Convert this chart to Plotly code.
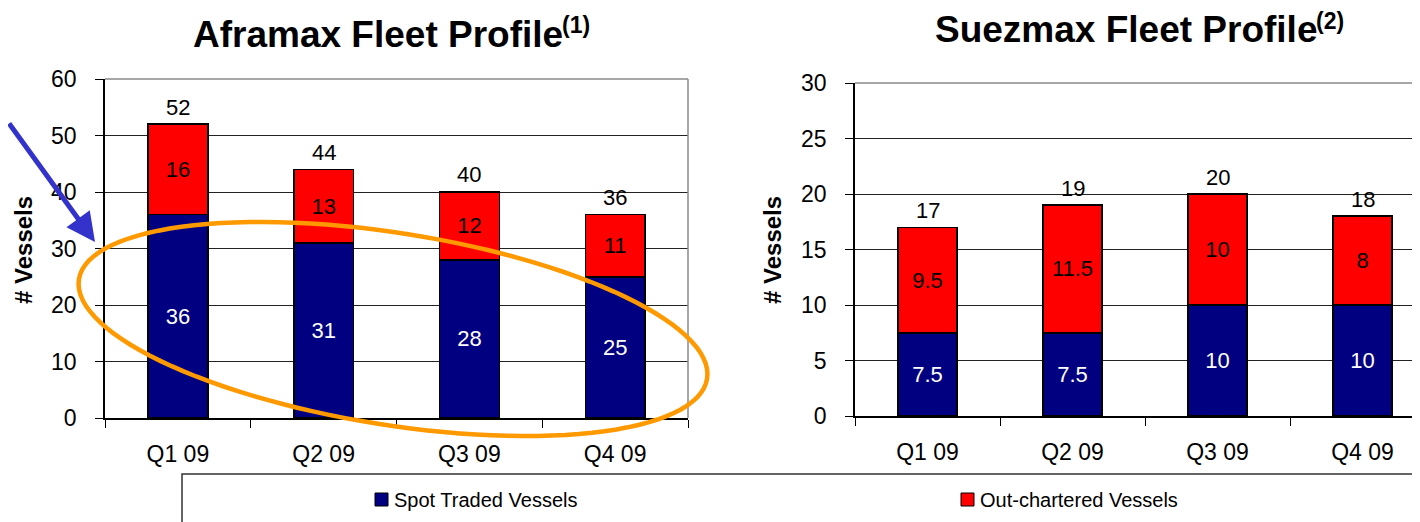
import math
import plotly.graph_objects as go

# ---------------- data ----------------
quarters = ["Q1 09", "Q2 09", "Q3 09", "Q4 09"]
series_names = ["Spot Traded Vessels", "Out-chartered Vessels"]

aframax_spot = [36, 31, 28, 25]
aframax_out = [16, 13, 12, 11]
aframax_total = [52, 44, 40, 36]

suezmax_spot = [7.5, 7.5, 10, 10]
suezmax_out = [9.5, 11.5, 10, 8]
suezmax_total = [17, 19, 20, 18]

titles = ["Aframax Fleet Profile", "Suezmax Fleet Profile"]
title_notes = ["(1)", "(2)"]
y_title = "# Vessels"

# ---------------- style ----------------
OFF = 8                      # page body margin
W, H = 1420 - OFF, 522 - OFF
NAVY = "#000080"
RED = "#FF0000"
FONT = "Liberation Sans, Arial, sans-serif"
TICK_SIZE = 23


def px(x):
    return (x - OFF) / W


def py(y):
    return 1 - (y - OFF) / H


fig = go.Figure()
annotations = []


def add_stack(spot, out, total, xa, ya):
    fig.add_trace(go.Bar(
        x=quarters, y=spot, name=series_names[0], xaxis=xa, yaxis=ya,
        marker=dict(color=NAVY, line=dict(color="black", width=1.5)),
        text=[f"{v:g}" for v in spot], textposition="inside",
        insidetextanchor="middle", textangle=0,
        insidetextfont=dict(color="white", size=TICK_SIZE - 1, family=FONT),
        showlegend=False))
    fig.add_trace(go.Bar(
        x=quarters, y=out, name=series_names[1], xaxis=xa, yaxis=ya,
        marker=dict(color=RED, line=dict(color="black", width=1.5)),
        text=[f"{v:g}" for v in out], textposition="inside",
        insidetextanchor="middle", textangle=0,
        insidetextfont=dict(color="black", size=TICK_SIZE - 1, family=FONT),
        showlegend=False))
    for q, v in zip(quarters, total):
        annotations.append(dict(xref=xa, yref=ya, x=q, y=v, text=f"{v:g}",
                                showarrow=False, xanchor="center", yanchor="middle",
                                yshift=17, font=dict(color="black", size=TICK_SIZE - 1, family=FONT)))


add_stack(aframax_spot, aframax_out, aframax_total, "x", "y")
add_stack(suezmax_spot, suezmax_out, suezmax_total, "x2", "y2")

# plot-area pixel boxes (reference page coordinates)
L = dict(x0=105, x1=688, top=79, bottom=418)
R = dict(x0=855, x1=1420, top=83, bottom=416)
cat_w_right = 145.0

common_x = dict(type="category", tickson="boundaries", ticks="outside", ticklen=8,
                tickcolor="black", tickwidth=1.2, showline=True, linecolor="black",
                linewidth=1.5, showgrid=False, zeroline=False,
                tickfont=dict(size=TICK_SIZE, color="black", family=FONT),
                ticklabelstandoff=15, fixedrange=True)
common_y = dict(ticks="outside", ticklen=8, tickcolor="black", tickwidth=1.2,
                showline=True, linecolor="black", linewidth=1.5,
                showgrid=True, gridcolor="#222222", gridwidth=1, zeroline=False,
                tickfont=dict(size=TICK_SIZE, color="black", family=FONT),
                ticklabelstandoff=14, fixedrange=True)

fig.update_layout(
    width=W, height=H, margin=dict(l=0, r=0, t=0, b=0),
    paper_bgcolor="white", plot_bgcolor="white", template="none",
    barmode="stack", bargap=0.59, showlegend=False,
    font=dict(family=FONT, color="black"),
    xaxis=dict(domain=[px(L["x0"]), px(L["x1"])], range=[-0.5, 3.5], anchor="y", **common_x),
    yaxis=dict(domain=[py(L["bottom"]), py(L["top"])], range=[0, 60], dtick=10, anchor="x", **common_y),
    xaxis2=dict(domain=[px(R["x0"]), 1.0],
                range=[-0.5, -0.5 + (R["x1"] - R["x0"]) / cat_w_right], anchor="y2", **common_x),
    yaxis2=dict(domain=[py(R["bottom"]), py(R["top"])], range=[0, 30], dtick=5, anchor="x2", **common_y),
)

shapes = []
# gray plot-area borders (top and right)
for xr, yr in (("x domain", "y domain"), ("x2 domain", "y2 domain")):
    shapes.append(dict(type="line", xref=xr, yref=yr, x0=0, x1=1, y0=1, y1=1,
                       line=dict(color="#8a8a8a", width=1.5), layer="above"))
shapes.append(dict(type="line", xref="x domain", yref="y domain", x0=1, x1=1, y0=0, y1=1,
                   line=dict(color="#8a8a8a", width=1.5), layer="above"))

# legend box
shapes.append(dict(type="rect", xref="paper", yref="paper", x0=px(182), x1=px(1413),
                   y0=py(540), y1=py(474), line=dict(color="#333333", width=1.5)))

# legend entries
legend_items = [(375, NAVY, series_names[0]), (961, RED, series_names[1])]
for x0, col, name in legend_items:
    shapes.append(dict(type="rect", xref="paper", yref="paper", x0=px(x0), x1=px(x0 + 13),
                       y0=py(506), y1=py(493), fillcolor=col, line=dict(color="black", width=1)))
    annotations.append(dict(xref="paper", yref="paper", x=px(x0 + 17), y=py(500),
                            xanchor="left", yanchor="middle", showarrow=False, text=name,
                            font=dict(size=20, color="black", family=FONT)))

# orange ellipse (highlight)
cx, cy, a, b, th = 393, 329, 318, 96, math.radians(9.0)
pts = []
for i in range(121):
    t = 2 * math.pi * i / 120
    xx = cx + a * math.cos(t) * math.cos(th) - b * math.sin(t) * math.sin(th)
    yy = cy + a * math.cos(t) * math.sin(th) + b * math.sin(t) * math.cos(th)
    pts.append((px(xx), py(yy)))
path = "M " + " L ".join(f"{x:.5f},{y:.5f}" for x, y in pts) + " Z"
shapes.append(dict(type="path", xref="paper", yref="paper", path=path,
                   line=dict(color="#FF9900", width=4.5), layer="above"))

# titles (main text ends where the footnote marker begins)
title_ends = [565, 1319]
title_y = [34, 30]
for t, n, xe, yc in zip(titles, title_notes, title_ends, title_y):
    annotations.append(dict(xref="paper", yref="paper", x=px(xe), y=py(yc),
                            xanchor="right", yanchor="middle", showarrow=False,
                            text=f"<b>{t}</b>",
                            font=dict(size=37, color="black", family=FONT)))
    annotations.append(dict(xref="paper", yref="paper", x=px(xe - 5), y=py(yc - 9),
                            xanchor="left", yanchor="middle", showarrow=False,
                            text=f"<b>{n}</b>",
                            font=dict(size=23, color="black", family=FONT)))

# y axis titles
for xc, yc in ((23, 250), (772, 250)):
    annotations.append(dict(xref="paper", yref="paper", x=px(xc), y=py(yc),
                            xanchor="center", yanchor="middle", showarrow=False,
                            text=f"<b>{y_title}</b>", textangle=-90,
                            font=dict(size=24, color="black", family=FONT)))

# blue arrow
annotations.append(dict(xref="paper", yref="paper", x=px(95), y=py(242), text="",
                        showarrow=True, arrowhead=2, arrowsize=1.15, arrowwidth=5,
                        arrowcolor="#3333CC", ax=-100, ay=-120, standoff=0))

fig.update_layout(shapes=shapes, annotations=annotations)
fig.write_html("out.html")
